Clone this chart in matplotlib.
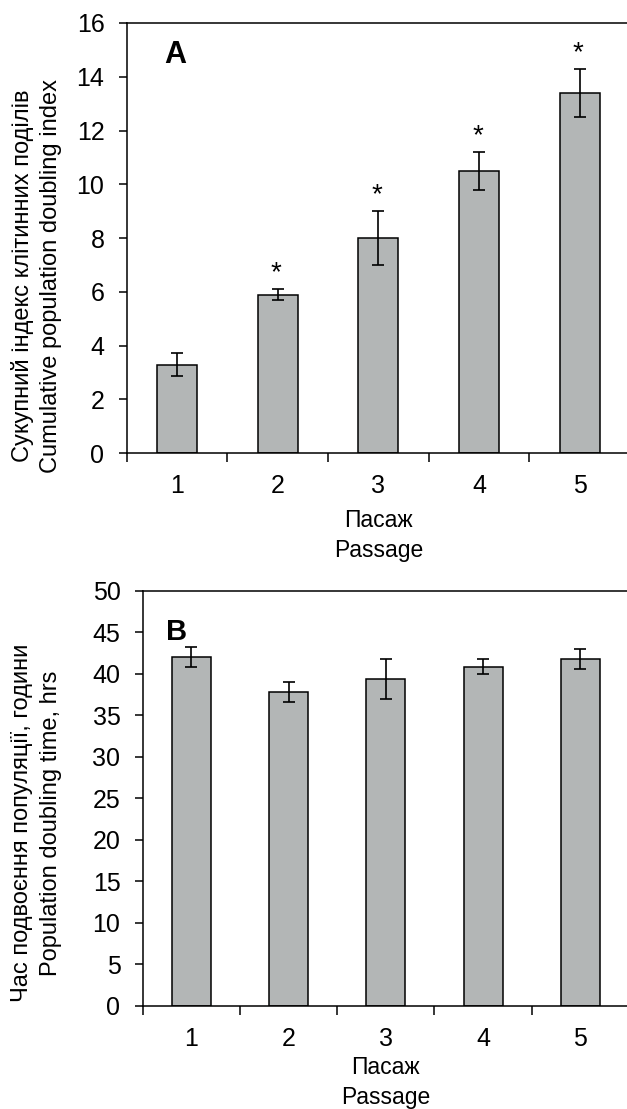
import matplotlib
matplotlib.use('Agg')
import matplotlib.pyplot as plt
from matplotlib.ticker import FixedLocator, NullFormatter

plt.rcParams['font.family'] = ['Liberation Sans', 'DejaVu Sans']

# data
passages = ['1', '2', '3', '4', '5']
cpdi_mean = [3.3, 5.9, 8.0, 10.5, 13.4]
cpdi_err = [0.42, 0.2, 1.0, 0.7, 0.88]
cpdi_star = [False, True, True, True, True]

pdt_mean = [42.0, 37.8, 39.4, 40.9, 41.8]
pdt_err = [1.2, 1.2, 2.4, 0.85, 1.2]

bar_color = '#b3b6b6'

fig = plt.figure(figsize=(6.27, 11.09), dpi=100)
ax_a = fig.add_axes([0.2021, 0.5913, 0.8027, 0.388])
ax_b = fig.add_axes([0.2276, 0.0929, 0.7756, 0.3742])


def style_axis(ax, ymax, ystep, xlabel_pad):
    x = list(range(1, len(passages) + 1))
    ax.set_xlim(0.5, len(passages) + 0.5)
    ax.set_ylim(0, ymax)
    ax.set_yticks(range(0, ymax + 1, ystep))
    # ticks between categories, labels in the middle (Excel style)
    ax.xaxis.set_major_locator(FixedLocator([i + 0.5 for i in range(len(passages) + 1)]))
    ax.xaxis.set_major_formatter(NullFormatter())
    ax.xaxis.set_minor_locator(FixedLocator(x))
    ax.set_xticklabels(passages, minor=True)
    ax.tick_params(axis='x', which='major', direction='out', length=6.5, width=1.1)
    ax.tick_params(axis='x', which='minor', length=0, pad=15, labelsize=18)
    ax.tick_params(axis='y', direction='out', length=6, width=1.1, pad=10, labelsize=18)
    ax.spines['right'].set_visible(False)
    for s in ['left', 'bottom', 'top']:
        ax.spines[s].set_linewidth(1.1)
    ax.set_xlabel('Пасаж\nPassage', fontsize=16.5, labelpad=xlabel_pad, linespacing=1.38)


# Panel A
x = list(range(1, len(passages) + 1))
ax_a.bar(x, cpdi_mean, width=0.4, color=bar_color, edgecolor='black', linewidth=1.1,
         yerr=cpdi_err, error_kw=dict(ecolor='black', elinewidth=1.2, capsize=4, capthick=1.2))
for xi, m, e, s in zip(x, cpdi_mean, cpdi_err, cpdi_star):
    if s:
        ax_a.annotate('*', (xi, m + e), xytext=(-1, 2), textcoords='offset points',
                      ha='center', va='bottom', fontsize=20)
style_axis(ax_a, 16, 2, 8)
ax_a.text(0.075, 0.925, 'A', transform=ax_a.transAxes, fontsize=22, fontweight='bold',
          ha='left', va='center')

# Panel B
ax_b.bar(x, pdt_mean, width=0.4, color=bar_color, edgecolor='black', linewidth=1.1,
         yerr=pdt_err, error_kw=dict(ecolor='black', elinewidth=1.2, capsize=4, capthick=1.2))
style_axis(ax_b, 50, 5, 3.5)
ax_b.text(0.047, 0.9, 'B', transform=ax_b.transAxes, fontsize=21, fontweight='bold',
          ha='left', va='center')

# y labels
fig.text(0.058, 0.751, 'Сукупний індекс клітинних поділів\nCumulative population doubling index',
         rotation=90, ha='center', va='center', multialignment='center', fontsize=17,
         linespacing=1.38)
fig.text(0.058, 0.258, 'Час подвоєння популяції, години\nPopulation doubling time, hrs',
         rotation=90, ha='center', va='center', multialignment='center', fontsize=17,
         linespacing=1.38)

fig.savefig('out.png', dpi=100)
